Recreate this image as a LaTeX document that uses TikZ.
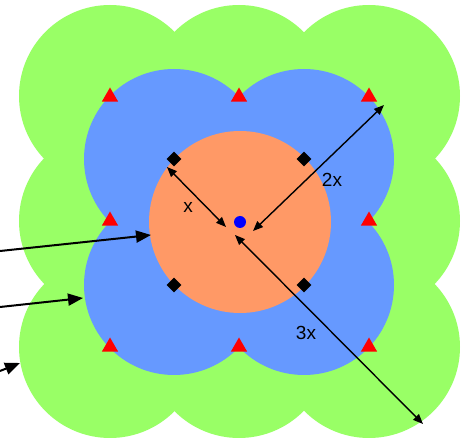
\documentclass[tikz,border=0pt]{standalone}
\usepackage{fontspec}
\setmainfont{Liberation Sans}
\usetikzlibrary{arrows.meta,shapes.geometric}
\definecolor{grn}{HTML}{99FF66}
\definecolor{blu}{HTML}{6699FF}
\definecolor{org}{HTML}{FF9966}
\begin{document}
\begin{tikzpicture}[x=1pt,y=-1pt,
  tri/.style={regular polygon, regular polygon sides=3, fill=red, inner sep=0pt, minimum size=19pt},
  dia/.style={diamond, fill=black, inner sep=0pt, minimum width=15pt, minimum height=15pt},
  meas/.style={line width=1.4pt, {Triangle[length=10pt,width=8pt]}-{Triangle[length=10pt,width=8pt]}},
  pointer/.style={line width=2pt, -{Triangle[length=15pt,width=12pt]}},
  lbl/.style={font=\fontsize{19}{21}\selectfont, inner sep=0pt}]
\useasboundingbox (0,0) rectangle (469,438);
\fill[white] (0,0) rectangle (469,438);
% green zone
\foreach \p in {(110,96),(239,96),(369,96),(110,221),(369,221),(110,347),(239,347),(369,347)}
  \fill[grn] \p circle (91pt);
% blue zone
\foreach \p in {(174,159),(304,159),(174,285),(304,285)}
  \fill[blu] \p circle (90pt);
% orange zone
\fill[org] (240,222) circle (91pt);
% markers
\node[tri] (t1) at (110,97) {};
\node[tri] (t2) at (239,97) {};
\node[tri] (t3) at (369,97) {};
\node[tri] (t4) at (110,221) {};
\node[tri] (t5) at (369,221) {};
\node[tri] (t6) at (110,347) {};
\node[tri] (t7) at (239,347) {};
\node[tri] (t8) at (369,347) {};
\node[dia] (d1) at (174,159) {};
\node[dia] (d2) at (304,159) {};
\node[dia] (d3) at (174,285) {};
\node[dia] (d4) at (304,285) {};
\node[circle, fill=blue, inner sep=0pt, minimum size=12pt] (c) at (240,222) {};
% arrow end points
\coordinate (xa) at (167,167);
\coordinate (xb) at (226,227);
\coordinate (ya) at (253,231);
\coordinate (yb) at (384,105);
\coordinate (za) at (235,235);
\coordinate (zb) at (423,424);
\coordinate (l1s) at (0,251);
\coordinate (l1e) at (151,235);
\coordinate (l2s) at (0,307);
\coordinate (l2e) at (83,298);
\coordinate (l3s) at (0,371);
\coordinate (l3e) at (20,363);
% measurement arrows
\draw[meas] (xa) -- (xb);
\draw[meas] (ya) -- (yb);
\draw[meas] (za) -- (zb);
\node[lbl] (lx) at (188,207) {x};
\node[lbl] (l2x) at (332,180) {2x};
\node[lbl] (l3x) at (306,333) {3x};
% pointers from left
\draw[pointer] (l1s) -- (l1e);
\draw[pointer] (l2s) -- (l2e);
\draw[pointer] (l3s) -- (l3e);
\end{tikzpicture}
\end{document}
